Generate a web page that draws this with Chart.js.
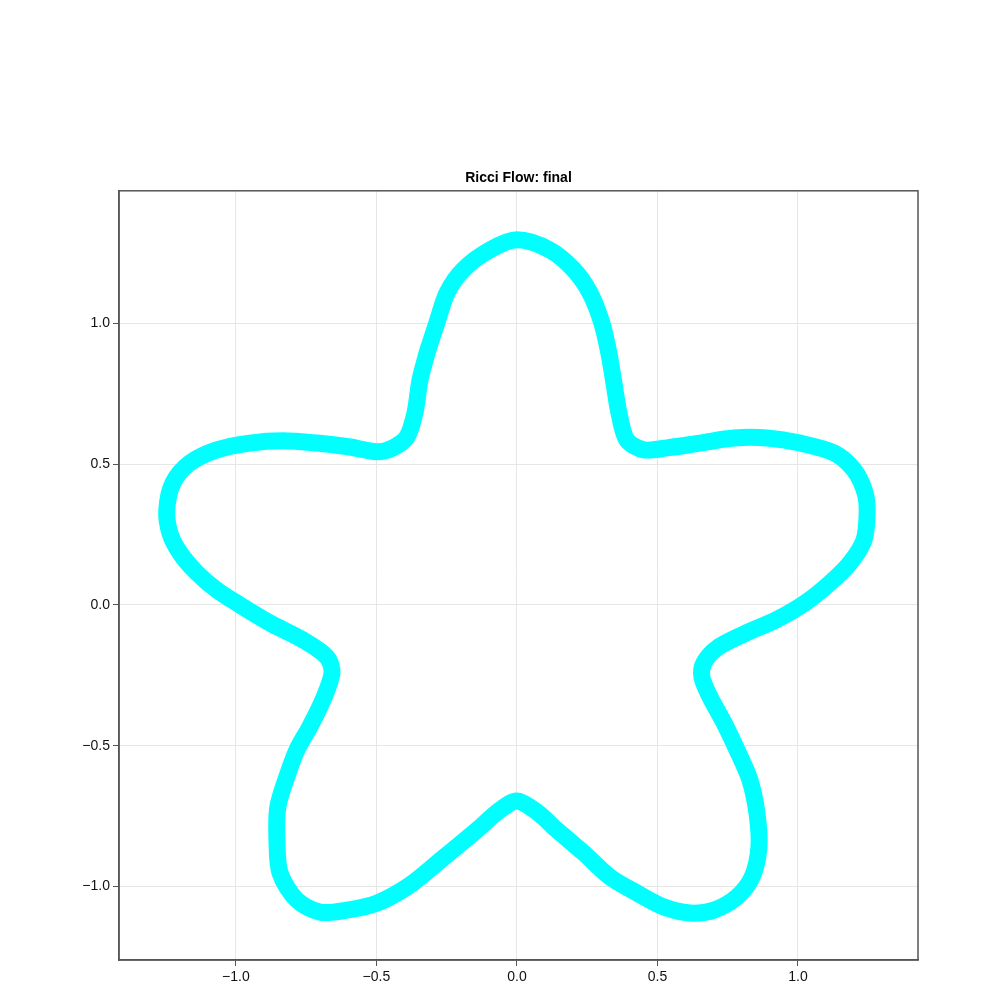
<!DOCTYPE html>
<html>
<head>
<meta charset="utf-8">
<title>Ricci Flow: final</title>
<script src="https://cdn.jsdelivr.net/npm/chart.js@4.4.1/dist/chart.umd.min.js"></script>
<style>
    body { margin: 0; background: #fff; }
    #wrap { width: 1000px; height: 1000px; }
</style>
</head>
<body>
<div id="wrap"><canvas id="chart" width="1000" height="1000"></canvas></div>
<script>
// Données (courbe fermée, sens anti-horaire, départ sur le bras gauche du lobe du haut)
const curveX = [
    -0.320, -0.345, -0.363, -0.391, -0.441,
    -0.498, -0.594, -0.712, -0.833, -0.950, -1.068, -1.164, -1.224, -1.246, -1.235,
    -1.199, -1.139, -1.068, -0.986, -0.879, -0.762, -0.676, -0.658, -0.690, -0.737,
    -0.783, -0.819, -0.851, -0.854, -0.843, -0.783, -0.701, -0.605, -0.498, -0.381,
    -0.263, -0.142, -0.060, 0.000, 0.071, 0.142, 0.238, 0.331, 0.427, 0.523,
    0.616, 0.701, 0.783, 0.837, 0.861, 0.854, 0.829, 0.783, 0.737, 0.687,
    0.658, 0.665, 0.712, 0.808, 0.922, 1.025, 1.114, 1.185, 1.235, 1.246,
    1.239, 1.199, 1.128, 1.007, 0.890, 0.772, 0.651, 0.534, 0.452, 0.391,
    0.363, 0.345, 0.327, 0.302, 0.260, 0.203, 0.117, 0.000,
    -0.096, -0.192, -0.249, -0.285, -0.320
];
const curveY = [
    0.895, 0.799, 0.682, 0.597, 0.558,
    0.544, 0.561, 0.575, 0.583, 0.575, 0.551, 0.504, 0.433, 0.337, 0.256,
    0.185, 0.114, 0.053, 0.000, -0.064, -0.124, -0.185, -0.241, -0.337, -0.433,
    -0.515, -0.611, -0.718, -0.835, -0.952, -1.048, -1.091, -1.084, -1.059, -0.995,
    -0.899, -0.799, -0.728, -0.696, -0.735, -0.799, -0.881, -0.966, -1.023, -1.073,
    -1.094, -1.084, -1.037, -0.966, -0.860, -0.739, -0.622, -0.515, -0.419, -0.327,
    -0.256, -0.206, -0.153, -0.103, -0.053, 0.007, 0.078, 0.149, 0.231, 0.327,
    0.398, 0.480, 0.540, 0.575, 0.593, 0.593, 0.575, 0.558, 0.551, 0.586,
    0.682, 0.789, 0.895, 1.002, 1.108, 1.190, 1.261, 1.297,
    1.261, 1.190, 1.108, 1.002, 0.895
];
const xTicks = [-1.0, -0.5, 0.0, 0.5, 1.0];
const yTicks = [-1.0, -0.5, 0.0, 0.5, 1.0];
const xRange = [-1.416, 1.427];
const yRange = [-1.261, 1.471];

function formatTick(v) {
    const s = Math.abs(v).toFixed(1);
    return v < 0 ? '\u2212' + s : s;
}

// Cadre complet autour de la zone de tracé
const framePlugin = {
    id: 'frame',
    afterDraw(chart) {
        const a = chart.chartArea;
        const ctx = chart.ctx;
        ctx.save();
        ctx.strokeStyle = '#555';
        ctx.lineWidth = 1.5;
        ctx.strokeRect(a.left, a.top, a.right - a.left, a.bottom - a.top);
        ctx.restore();
    }
};

const points = curveX.map((x, i) => ({ x: x, y: curveY[i] }));
const font = { family: "'Liberation Sans', Arial, sans-serif", size: 14 };

new Chart(document.getElementById('chart'), {
    type: 'scatter',
    data: {
        datasets: [{
            data: points,
            showLine: true,
            borderColor: '#00ffff',
            borderWidth: 17,
            borderJoinStyle: 'round',
            borderCapStyle: 'round',
            tension: 0.3,
            pointRadius: 0,
            fill: false
        }]
    },
    options: {
        responsive: false,
        animation: false,
        layout: { padding: { top: 170, right: 82, bottom: 0, left: 0 } },
        plugins: {
            legend: { display: false },
            tooltip: { enabled: false },
            title: {
                display: true,
                fullSize: false,
                text: 'Ricci Flow: final',
                color: '#000',
                font: { family: font.family, size: 14, weight: 'bold' },
                padding: { top: 0, bottom: 4 }
            }
        },
        scales: {
            x: {
                type: 'linear',
                min: xRange[0],
                max: xRange[1],
                afterBuildTicks: axis => { axis.ticks = xTicks.map(v => ({ value: v })); },
                afterFit: scale => { scale.height = 40; },
                ticks: { callback: v => formatTick(v), color: '#111', font: font, padding: 3, maxRotation: 0 },
                grid: { color: '#e6e6e6', lineWidth: 1, tickColor: '#555', tickLength: 6 },
                border: { display: true, color: '#555', width: 1.5 }
            },
            y: {
                type: 'linear',
                min: yRange[0],
                max: yRange[1],
                afterBuildTicks: axis => { axis.ticks = yTicks.map(v => ({ value: v })); },
                afterFit: scale => { scale.width = 119; },
                ticks: { callback: v => formatTick(v), color: '#111', font: font, padding: 3 },
                grid: { color: '#e6e6e6', lineWidth: 1, tickColor: '#555', tickLength: 6 },
                border: { display: true, color: '#555', width: 1.5 }
            }
        }
    },
    plugins: [framePlugin]
});
</script>
</body>
</html>
